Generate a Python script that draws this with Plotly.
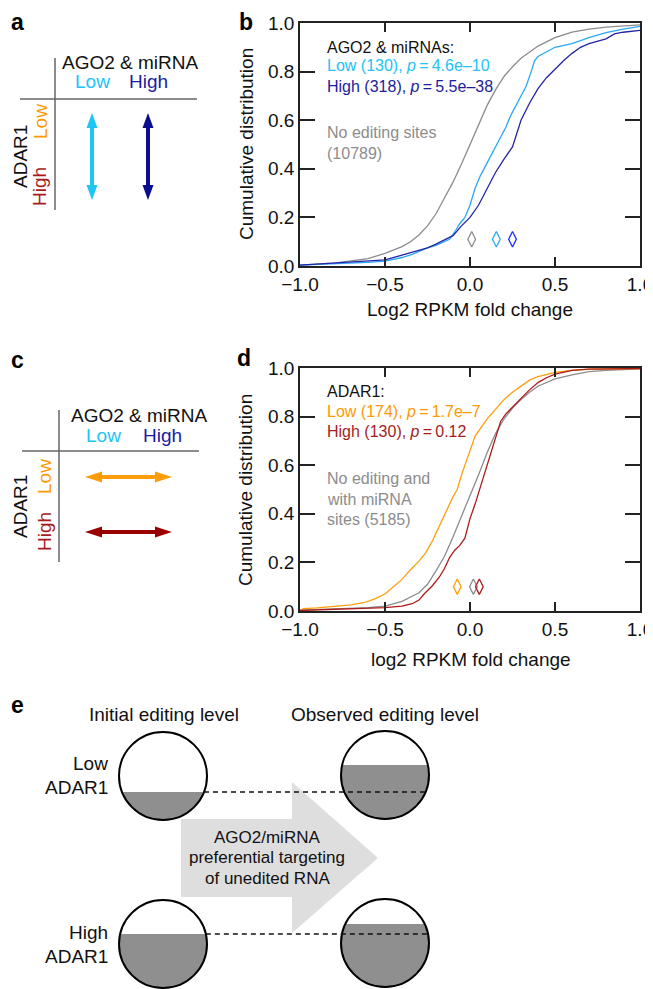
import numpy as np
import plotly.graph_objects as go

# The page body adds an 8 px margin, so the figure is drawn 8 px smaller and
# every position below is given in window pixels and shifted by OFF.
OFF = 8
W, H = 653 - OFF, 989 - OFF
FONT = "Liberation Sans, Arial, Helvetica, sans-serif"

# ---------------- data ----------------
# Panel b: cumulative distributions of log2 RPKM fold change
b_none_x = [-1.0, -0.8, -0.6, -0.5, -0.4, -0.35, -0.3, -0.25, -0.2, -0.15, -0.1, -0.05, 0.0,
            0.05, 0.1, 0.15, 0.2, 0.25, 0.3, 0.4, 0.5, 0.6, 0.7, 0.8, 0.9, 1.0]
b_none_y = [0.004, 0.012, 0.03, 0.052, 0.08, 0.1, 0.128, 0.165, 0.215, 0.28, 0.345, 0.42, 0.5,
            0.58, 0.66, 0.725, 0.78, 0.82, 0.855, 0.905, 0.94, 0.962, 0.975, 0.983, 0.988, 0.992]
b_low_x = [-1.0, -0.8, -0.6, -0.5, -0.4, -0.34, -0.25, -0.2, -0.15, -0.12, -0.09, -0.06, -0.03, 0.0,
           0.03, 0.06, 0.09, 0.12, 0.15, 0.18, 0.21, 0.24, 0.27, 0.3, 0.33, 0.36, 0.38, 0.4, 0.45,
           0.5, 0.6, 0.7, 0.8, 0.9, 1.0]
b_low_y = [0.004, 0.008, 0.015, 0.02, 0.035, 0.048, 0.075, 0.085, 0.1, 0.11, 0.14, 0.175, 0.2, 0.25,
           0.32, 0.37, 0.41, 0.45, 0.49, 0.53, 0.57, 0.62, 0.66, 0.7, 0.74, 0.8, 0.845, 0.862, 0.88,
           0.9, 0.915, 0.94, 0.96, 0.975, 0.986]
b_high_x = [-1.0, -0.8, -0.7, -0.6, -0.5, -0.4, -0.3, -0.25, -0.2, -0.15, -0.1, -0.05, 0.0, 0.05,
            0.1, 0.15, 0.2, 0.25, 0.3, 0.35, 0.4, 0.45, 0.5, 0.55, 0.6, 0.65, 0.7, 0.8, 0.85, 0.9, 1.0]
b_high_y = [0.004, 0.012, 0.018, 0.02, 0.025, 0.045, 0.065, 0.075, 0.09, 0.108, 0.125, 0.165, 0.2,
            0.25, 0.32, 0.385, 0.44, 0.49, 0.6, 0.67, 0.73, 0.775, 0.81, 0.845, 0.875, 0.9, 0.915,
            0.935, 0.955, 0.962, 0.97]
b_median_x = [0.01, 0.155, 0.25]      # no editing, low, high
b_median_y = [0.11, 0.11, 0.11]

# Panel d
d_none_x = [-1.0, -0.8, -0.6, -0.5, -0.4, -0.3, -0.25, -0.2, -0.15, -0.1, -0.05, 0.0, 0.05, 0.1,
            0.15, 0.2, 0.25, 0.3, 0.35, 0.4, 0.5, 0.6, 0.7, 0.8, 1.0]
d_none_y = [0.004, 0.008, 0.014, 0.02, 0.04, 0.075, 0.11, 0.165, 0.225, 0.305, 0.39, 0.47, 0.56,
            0.65, 0.73, 0.79, 0.835, 0.87, 0.9, 0.925, 0.955, 0.972, 0.985, 0.99, 0.996]
d_low_x = [-1.0, -0.98, -0.9, -0.8, -0.7, -0.62, -0.56, -0.5, -0.45, -0.4, -0.35, -0.3, -0.26, -0.22,
           -0.18, -0.14, -0.1, -0.075, -0.05, -0.02, 0.0, 0.03, 0.07, 0.1, 0.15, 0.2, 0.25, 0.3,
           0.35, 0.4, 0.45, 0.5, 0.6, 0.7, 1.0]
d_low_y = [0.0, 0.01, 0.013, 0.018, 0.025, 0.035, 0.05, 0.07, 0.1, 0.13, 0.17, 0.205, 0.24, 0.29,
           0.35, 0.41, 0.47, 0.5, 0.56, 0.62, 0.66, 0.72, 0.76, 0.79, 0.83, 0.87, 0.9, 0.925, 0.95,
           0.965, 0.975, 0.982, 0.99, 0.995, 0.998]
d_high_x = [-1.0, -0.8, -0.6, -0.5, -0.4, -0.34, -0.3, -0.27, -0.22, -0.18, -0.15, -0.12, -0.09,
            -0.06, -0.03, 0.0, 0.03, 0.06, 0.09, 0.12, 0.15, 0.18, 0.21, 0.25, 0.3, 0.35, 0.4,
            0.45, 0.5, 0.6, 0.7, 1.0]
d_high_y = [0.002, 0.006, 0.01, 0.014, 0.02, 0.03, 0.045, 0.07, 0.105, 0.14, 0.175, 0.22, 0.25,
            0.27, 0.3, 0.38, 0.44, 0.51, 0.58, 0.65, 0.72, 0.78, 0.81, 0.84, 0.875, 0.91, 0.94,
            0.96, 0.975, 0.99, 0.995, 0.998]
d_median_x = [-0.075, 0.02, 0.055]    # low, no editing, high
d_median_y = [0.1, 0.1, 0.1]

x_ticks = [-1.0, -0.5, 0.0, 0.5, 1.0]
y_ticks = [0.0, 0.2, 0.4, 0.6, 0.8, 1.0]

# colours
C_GRAY = "#8c8c8c"
C_CYAN_LINE = "#2aa8f5"
C_CYAN_TXT = "#22c2f8"
C_NAVY_LINE = "#2424a8"
C_NAVY_TXT = "#1c1c9c"
C_NAVY_DIA = "#1a2cff"
C_ORANGE = "#ff9d0a"
C_ORANGE_TXT = "#ff9900"
C_RED = "#ad1a1a"
C_RED_TXT = "#a61c1c"


def P(x, y):
    return (x - OFF) / W, 1 - (y - OFF) / H


fig = go.Figure()

# ---------- panel b ----------
fig.add_trace(go.Scatter(x=b_none_x, y=b_none_y, mode="lines", line=dict(color=C_GRAY, width=1.3),
                         xaxis="x", yaxis="y", showlegend=False))
fig.add_trace(go.Scatter(x=b_low_x, y=b_low_y, mode="lines", line=dict(color=C_CYAN_LINE, width=1.3),
                         xaxis="x", yaxis="y", showlegend=False))
fig.add_trace(go.Scatter(x=b_high_x, y=b_high_y, mode="lines", line=dict(color=C_NAVY_LINE, width=1.3),
                         xaxis="x", yaxis="y", showlegend=False))
fig.add_trace(go.Scatter(x=b_median_x, y=b_median_y, mode="markers", xaxis="x", yaxis="y",
                         marker=dict(symbol="diamond-tall-open", size=11,
                                     color=[C_GRAY, C_CYAN_LINE, C_NAVY_DIA],
                                     line=dict(width=1.3)), showlegend=False))

# ---------- panel d ----------
fig.add_trace(go.Scatter(x=d_none_x, y=d_none_y, mode="lines", line=dict(color=C_GRAY, width=1.3),
                         xaxis="x2", yaxis="y2", showlegend=False))
fig.add_trace(go.Scatter(x=d_low_x, y=d_low_y, mode="lines", line=dict(color=C_ORANGE, width=1.3),
                         xaxis="x2", yaxis="y2", showlegend=False))
fig.add_trace(go.Scatter(x=d_high_x, y=d_high_y, mode="lines", line=dict(color=C_RED, width=1.3),
                         xaxis="x2", yaxis="y2", showlegend=False))
fig.add_trace(go.Scatter(x=d_median_x, y=d_median_y, mode="markers", xaxis="x2", yaxis="y2",
                         marker=dict(symbol="diamond-tall-open", size=11,
                                     color=[C_ORANGE, C_GRAY, C_RED],
                                     line=dict(width=1.3)), showlegend=False))

ax_common = dict(showline=True, linecolor="#222", linewidth=1.5, mirror="ticks", ticks="inside",
                 tickcolor="#222", tickwidth=1.5, showgrid=False, zeroline=False,
                 automargin=False, ticklabeloverflow="allow",
                 tickfont=dict(size=19, color="#111", family=FONT), tickformat=".1f")
xdom = [P(300, 0)[0], P(640, 0)[0]]
fig.update_layout(
    template="none",
    xaxis=dict(domain=xdom, range=[-1, 1], anchor="y", tickvals=x_ticks, ticklen=9, **ax_common),
    yaxis=dict(domain=[P(0, 266)[1], P(0, 23)[1]], range=[0, 1], anchor="x", tickvals=y_ticks,
               ticklen=15, **ax_common),
    xaxis2=dict(domain=xdom, range=[-1, 1], anchor="y2", tickvals=x_ticks, ticklen=9, **ax_common),
    yaxis2=dict(domain=[P(0, 611)[1], P(0, 368)[1]], range=[0, 1], anchor="x2", tickvals=y_ticks,
                ticklen=15, **ax_common),
)

ann = []


def text(x, y, s, size=19, color="#111", xanchor="center", angle=0, bold=False, yanchor="middle"):
    px, py = P(x, y)
    if bold:
        s = "<b>" + s + "</b>"
    ann.append(dict(x=px, y=py, xref="paper", yref="paper", text=s, showarrow=False,
                    xanchor=xanchor, yanchor=yanchor, textangle=angle,
                    font=dict(size=size, color=color, family=FONT)))


# panel letters (kept just inside the drawable area)
text(17, 22, "a", size=23, bold=True, color="#000")
text(246, 22, "b", size=23, bold=True, color="#000")
text(17, 360, "c", size=23, bold=True, color="#000")
text(244, 358, "d", size=23, bold=True, color="#000")
text(17, 705, "e", size=23, bold=True, color="#000")

# axis titles
text(246, 144, "Cumulative distribution", size=19, angle=-90)
text(246, 490, "Cumulative distribution", size=19, angle=-90)
text(470, 310, "Log2 RPKM fold change", size=19)
text(471, 659, "log2 RPKM fold change", size=19)

# in-plot labels b
P_EQ = "<i>p</i>\u2009=\u2009"
text(325, 47, "AGO2 & miRNAs:", size=16, xanchor="left")
text(325, 66, "Low (130), " + P_EQ + "4.6e\u201310", size=16, color=C_CYAN_TXT, xanchor="left")
text(325, 86, "High (318), " + P_EQ + "5.5e\u201338", size=16, color=C_NAVY_TXT, xanchor="left")
text(325, 133, "No editing sites", size=16, color=C_GRAY, xanchor="left")
text(325, 153, "(10789)", size=16, color=C_GRAY, xanchor="left")
# in-plot labels d
text(325, 392, "ADAR1:", size=16, xanchor="left")
text(325, 412, "Low (174), " + P_EQ + "1.7e\u20137", size=16, color=C_ORANGE_TXT, xanchor="left")
text(325, 431, "High (130), " + P_EQ + "0.12", size=16, color=C_RED_TXT, xanchor="left")
text(325, 479, "No editing and", size=16, color=C_GRAY, xanchor="left")
text(325, 499, "with miRNA", size=16, color=C_GRAY, xanchor="left")
text(325, 519, "sites (5185)", size=16, color=C_GRAY, xanchor="left")

# panel a texts
text(130, 62, "AGO2 & miRNA", size=19)
text(92, 82, "Low", size=19, color="#22c4f8")
text(148, 82, "High", size=19, color="#1c1ca0")
text(20, 157, "ADAR1", size=19, angle=-90)
text(40, 122, "Low", size=19, angle=-90, color=C_ORANGE_TXT)
text(40, 187, "High", size=19, angle=-90, color=C_RED_TXT)
# panel c texts
text(139, 415, "AGO2 & miRNA", size=19)
text(103, 435, "Low", size=19, color="#22c4f8")
text(162, 435, "High", size=19, color="#1c1ca0")
text(20, 507, "ADAR1", size=19, angle=-90)
text(44, 477, "Low", size=19, angle=-90, color=C_ORANGE_TXT)
text(44, 532, "High", size=19, angle=-90, color=C_RED_TXT)

# panel e texts
text(164, 714, "Initial editing level", size=19)
text(385, 714, "Observed editing level", size=19)
text(110, 763, "Low", size=19, xanchor="right")
text(110, 787, "ADAR1", size=19, xanchor="right")
text(110, 932, "High", size=19, xanchor="right")
text(110, 956, "ADAR1", size=19, xanchor="right")
text(267, 837, "AGO2/miRNA", size=17)
text(267, 857, "preferential targeting", size=17)
text(267, 878, "of unedited RNA", size=17)

shapes = []


def line(x0, y0, x1, y1, color="#666", width=1.5, dash=None):
    a, b = P(x0, y0)
    c, d = P(x1, y1)
    ln = dict(color=color, width=width)
    if dash:
        ln["dash"] = dash
    shapes.append(dict(type="line", xref="paper", yref="paper", x0=a, y0=b, x1=c, y1=d, line=ln))


def poly(pts, fill, lw=0, lc=None):
    s = ""
    for i, (x, y) in enumerate(pts):
        a, b = P(x, y)
        s += ("M" if i == 0 else "L") + f"{a:.5f},{b:.5f} "
    s += "Z"
    shapes.append(dict(type="path", xref="paper", yref="paper", path=s, fillcolor=fill,
                       line=dict(width=lw, color=lc or fill)))


# panel a grid lines and arrows
line(55, 58, 55, 210)
line(20, 99, 197, 99)
for ax_, col in [(92, "#1ec6f5"), (148, "#0c0c8e")]:
    line(ax_, 124, ax_, 189, color=col, width=4)
    poly([(ax_, 113), (ax_ - 5.5, 128), (ax_ + 5.5, 128)], col)
    poly([(ax_, 200), (ax_ - 5.5, 185), (ax_ + 5.5, 185)], col)

# panel c grid lines and arrows
line(59, 410, 59, 562)
line(22, 451, 199, 451)
for ay_, col in [(477, "#ff9c0a"), (532, "#990000")]:
    line(98, ay_, 159, ay_, color=col, width=4)
    poly([(85, ay_), (102, ay_ - 5.5), (102, ay_ + 5.5)], col)
    poly([(172, ay_), (155, ay_ - 5.5), (155, ay_ + 5.5)], col)

# panel e big arrow
poly([(181, 819), (292, 819), (292, 782), (378, 858), (292, 933), (292, 897), (181, 897)], "#dedede")

# circles with partial fill
R = 44
circles = [(163, 776, 792), (163, 944, 934), (385, 775, 765), (385, 943, 924)]
for cx, cy, lev in circles:
    d = (lev - cy) / R
    t0 = np.arcsin(d)
    ts = np.linspace(t0, np.pi - t0, 80)
    pts = [(cx + R * np.cos(t), cy + R * np.sin(t)) for t in ts]
    poly(pts, "#8f8f8f")
    a0, b0 = P(cx - R, cy - R)
    a1, b1 = P(cx + R, cy + R)
    shapes.append(dict(type="circle", xref="paper", yref="paper", x0=a0, y0=b0, x1=a1, y1=b1,
                       line=dict(color="#000", width=2), fillcolor="rgba(0,0,0,0)"))

# dashed level lines
for lev, cyl in [(792, 776), (934, 944)]:
    dx = float(np.sqrt(R ** 2 - (lev - cyl) ** 2))
    line(163 + dx, lev, 385 + dx, lev, color="#111", width=1.6, dash="5px,4px")

fig.update_layout(
    width=W, height=H, margin=dict(l=0, r=0, t=0, b=0, pad=0),
    paper_bgcolor="white", plot_bgcolor="white",
    annotations=ann, shapes=shapes, showlegend=False,
    font=dict(family=FONT),
)

fig.write_html("out.html")
